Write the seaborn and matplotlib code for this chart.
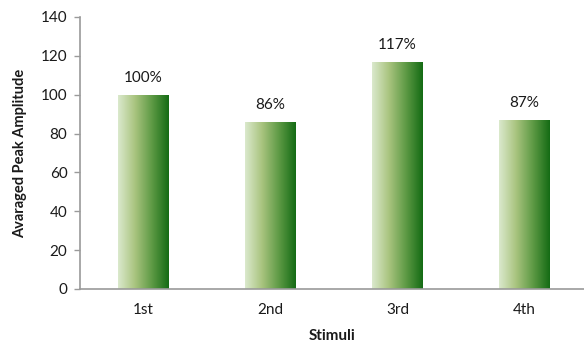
import numpy as np
import pandas as pd
import matplotlib
matplotlib.use("Agg")
import matplotlib.pyplot as plt
from matplotlib.colors import LinearSegmentedColormap
import seaborn as sns

stimuli = ["1st", "2nd", "3rd", "4th"]
amplitude = [100, 86, 117, 87]
pct_labels = ["100%", "86%", "117%", "87%"]
y_ticks = [0, 20, 40, 60, 80, 100, 120, 140]

sns.set_theme(style="white")
plt.rcParams["font.family"] = ["Lato", "DejaVu Sans"]

df = pd.DataFrame({"Stimuli": stimuli, "Amplitude": amplitude})

fig = plt.figure(figsize=(5.84, 3.46), dpi=100)
ax = fig.add_axes([80 / 584, 1 - 289 / 346, 504 / 584, 272 / 346])

sns.barplot(data=df, x="Stimuli", y="Amplitude", ax=ax, width=0.4,
            color="#6fa050", saturation=1)

# horizontal light-to-dark green fill clipped to each bar
grad = LinearSegmentedColormap.from_list(
    "bar_green", ["#dbe9cd", "#a9c47f", "#5e9a45", "#146b14"])
ramp = np.linspace(0, 1, 256).reshape(1, -1)
for patch in ax.patches:
    x0, y0 = patch.get_x(), patch.get_y()
    w, h = patch.get_width(), patch.get_height()
    img = ax.imshow(ramp, cmap=grad, aspect="auto",
                    extent=(x0, x0 + w, y0, y0 + h), zorder=2,
                    interpolation="bilinear")
    img.set_clip_path(patch)
    patch.set_facecolor("none")
    patch.set_edgecolor("none")

for i, (v, t) in enumerate(zip(amplitude, pct_labels)):
    ax.annotate(t, (i, v), xytext=(0, 7), textcoords="offset points",
                ha="center", va="bottom", fontsize=11, color="#1a1a1a")

ax.set_xlim(-0.5, -0.5 + 504 / 127)
ax.set_ylim(0, 140)
ax.set_yticks(y_ticks)
ax.tick_params(axis="y", which="both", left=True, length=4, width=1,
               color="#9a9a9a", labelsize=11, labelcolor="#1a1a1a", pad=5)
ax.tick_params(axis="x", bottom=False, labelsize=11, labelcolor="#1a1a1a",
               pad=4)

for side in ["top", "right"]:
    ax.spines[side].set_visible(False)
for side in ["left", "bottom"]:
    ax.spines[side].set_color("#9a9a9a")
    ax.spines[side].set_linewidth(1.2)

ax.set_xlabel("Stimuli", fontsize=11, fontweight="bold", color="#1a1a1a",
              labelpad=9)
ax.set_ylabel("Avaraged Peak Amplitude", fontsize=10.5, fontweight="bold",
              color="#1a1a1a", labelpad=10)

fig.savefig("out.png", dpi=100)
